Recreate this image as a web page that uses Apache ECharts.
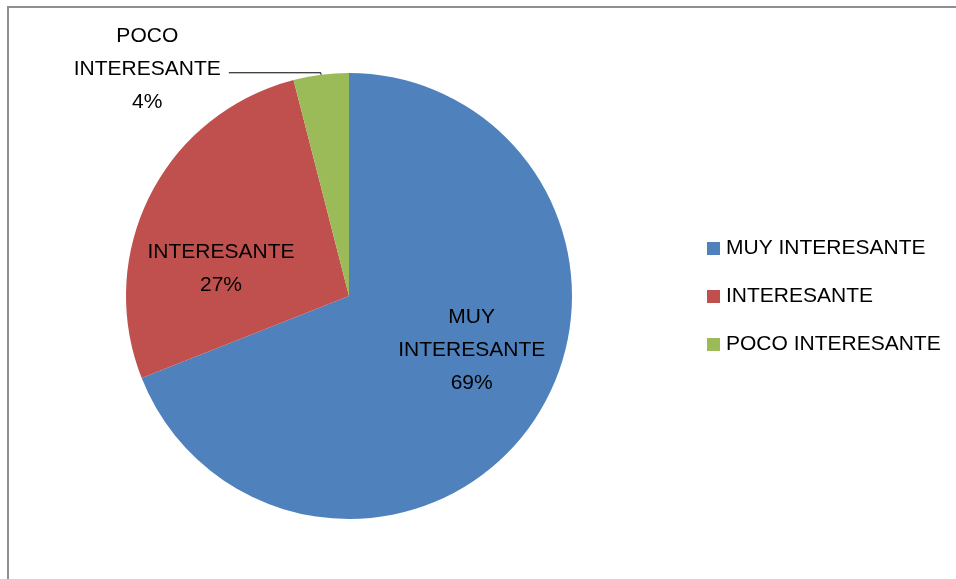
<!DOCTYPE html>
<html>
<head>
<meta charset="utf-8">
<script src="https://cdn.jsdelivr.net/npm/echarts@6/dist/echarts.min.js"></script>
<style>
  html, body { margin: 0; padding: 0; background: #fff; }
  #chart { width: 956px; height: 579px; }
</style>
</head>
<body>
<div id="chart"></div>
<script>
const categories = ['MUY INTERESANTE', 'INTERESANTE', 'POCO INTERESANTE'];
const values = [69, 27, 4];
const colors = ['#4F81BD', '#C0504D', '#9BBB59'];
const labelNames = ['MUY\nINTERESANTE', 'INTERESANTE', 'POCO\nINTERESANTE'];

const font = 'Liberation Sans';
const fontSize = 21;

const chart = echarts.init(document.getElementById('chart'));

const pieData = categories.map((name, i) => {
  const item = { name: name, value: values[i], itemStyle: { color: colors[i] } };
  if (i === 2) {
    item.label = {
      position: 'outside',
      distanceToLabelLine: 8,
      padding: [0, 0, 8, 0],
      formatter: p => labelNames[p.dataIndex].split('\n').concat([p.value + '%'])
        .map(s => '{c|' + s + '}').join('\n'),
      rich: { c: { align: 'center', fontFamily: font, fontSize: fontSize, lineHeight: 33, color: '#000' } }
    };
    item.labelLine = { show: true, length: 2, length2: 92, lineStyle: { color: '#000', width: 1 } };
  }
  return item;
});

chart.setOption({
  backgroundColor: '#fff',
  animation: false,
  graphic: [{
    type: 'rect',
    shape: { x: 8, y: 7, width: 1000, height: 1000 },
    style: { fill: 'none', stroke: '#8f8f8f', lineWidth: 2 },
    silent: true
  }],
  legend: {
    orient: 'vertical',
    left: 702,
    top: 233,
    itemWidth: 13,
    itemHeight: 13,
    itemGap: 27,
    icon: 'rect',
    data: categories,
    textStyle: { fontFamily: font, fontSize: fontSize, color: '#000', lineHeight: 21, padding: [0, 0, 0, 1] }
  },
  series: [{
    type: 'pie',
    center: [349, 296],
    radius: 223,
    startAngle: 90,
    clockwise: true,
    data: pieData,
    label: {
      position: 'inside',
      formatter: p => labelNames[p.dataIndex] + '\n' + p.value + '%',
      fontFamily: font,
      fontSize: fontSize,
      lineHeight: 33,
      color: '#000'
    },
    labelLine: { show: false },
    labelLayout: p => {
      if (p.dataIndex === 0) return { dx: 28, dy: -10 };
      if (p.dataIndex === 1) return { dx: -26, dy: 25 };
      return {};
    },
    emphasis: { disabled: true }
  }]
});
</script>
</body>
</html>
